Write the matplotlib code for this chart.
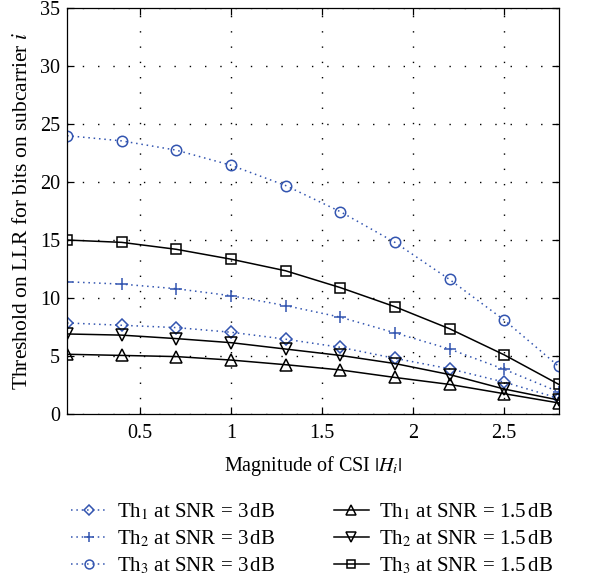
import matplotlib
matplotlib.use("Agg")
import matplotlib.pyplot as plt

# magnitude of CSI |H_i|
csi = [0.1, 0.4, 0.7, 1.0, 1.3, 1.6, 1.9, 2.2, 2.5, 2.8]

# thresholds at SNR = 3 dB (dotted, blue)
th1_3db = [7.85, 7.65, 7.45, 7.05, 6.45, 5.75, 4.8, 3.9, 2.75, 1.35]
th2_3db = [11.4, 11.2, 10.8, 10.2, 9.35, 8.35, 7.0, 5.6, 3.85, 1.9]
th3_3db = [24.0, 23.55, 22.75, 21.45, 19.7, 17.45, 14.8, 11.6, 8.1, 4.1]

# thresholds at SNR = 1.5 dB (solid, black)
th1_15db = [5.15, 5.05, 4.95, 4.65, 4.25, 3.8, 3.15, 2.55, 1.75, 0.95]
th2_15db = [6.9, 6.8, 6.5, 6.15, 5.6, 5.05, 4.35, 3.4, 2.15, 1.2]
th3_15db = [15.0, 14.8, 14.2, 13.35, 12.35, 10.9, 9.25, 7.35, 5.1, 2.55]

labels = [
    r"Th$_1$ at SNR = 3$\,$dB",
    r"Th$_2$ at SNR = 3$\,$dB",
    r"Th$_3$ at SNR = 3$\,$dB",
    r"Th$_1$ at SNR = 1.5$\,$dB",
    r"Th$_2$ at SNR = 1.5$\,$dB",
    r"Th$_3$ at SNR = 1.5$\,$dB",
]

plt.rcParams['font.family'] = ['Liberation Serif', 'DejaVu Serif']
plt.rcParams['mathtext.fontset'] = 'stix'
plt.rcParams['font.size'] = 14.5

blue = '#3355b0'
dots = (0, (1, 2.5))

fig = plt.figure(figsize=(5.89, 5.79), dpi=100)
ax = fig.add_axes([0.1138, 0.285, 0.835, 0.701])

series = [
    (th1_3db, blue, dots, 'D', 6.5),
    (th2_3db, blue, dots, '+', 8),
    (th3_3db, blue, dots, 'o', 7.5),
    (th1_15db, 'black', '-', '^', 8.5),
    (th2_15db, 'black', '-', 'v', 8.5),
    (th3_15db, 'black', '-', 's', 7.5),
]

for (vals, col, ls, mk, ms), lab in zip(series, labels):
    ax.plot(csi, vals, color=col, linestyle=ls, linewidth=1.1,
            marker=mk, markersize=ms, markerfacecolor='none',
            markeredgecolor=col, markeredgewidth=1.1, label=lab)

ax.set_xlim(0.1, 2.8)
ax.set_ylim(0, 35)
ax.set_xticks([0.5, 1, 1.5, 2, 2.5])
ax.set_xticklabels(['0.5', '1', '1.5', '2', '2.5'])
ax.set_yticks(range(0, 36, 5))
ax.tick_params(direction='in', top=True, right=True, length=5, width=0.9)
ax.tick_params(axis='x', pad=7)
ax.tick_params(axis='y', pad=5)
ax.grid(True, linestyle=(0, (1, 10)), color='black', linewidth=1.0)
for sp in ax.spines.values():
    sp.set_linewidth(0.9)

ax.set_xlabel(r"Magnitude of CSI $|H_i|$", labelpad=8)
ax.set_ylabel(r"Threshold on LLR for bits on subcarrier $i$", fontsize=15.5, labelpad=6)

handles, labs = ax.get_legend_handles_labels()
fig.legend(handles, labs, loc='lower center', bbox_to_anchor=(0.53, -0.014),
           ncol=2, frameon=False, fontsize=15, handlelength=1.7, handletextpad=0.5,
           columnspacing=2.8, labelspacing=0.32, markerscale=0.85,
           borderaxespad=0.1)

fig.savefig('out.png', dpi=100)
